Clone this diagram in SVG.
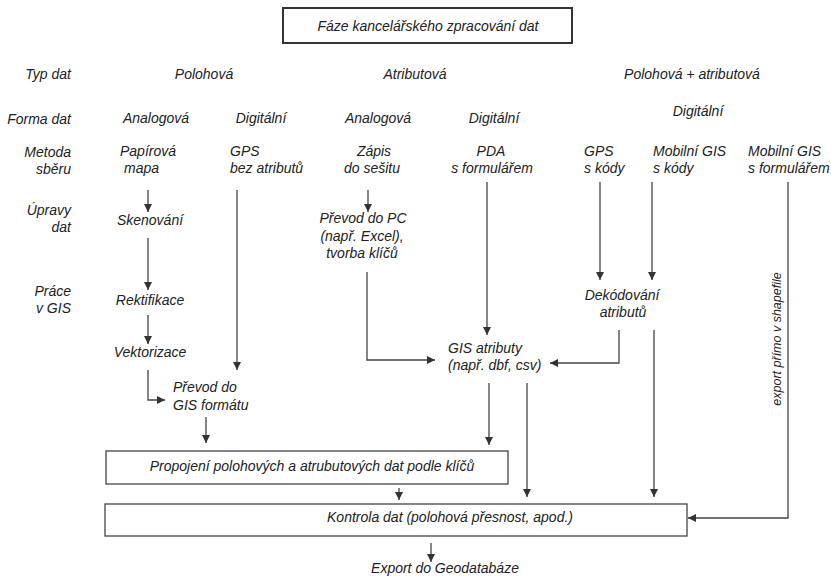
<svg xmlns="http://www.w3.org/2000/svg" width="831" height="577" viewBox="0 0 831 577">
<defs>
<style>
text{font-family:"Liberation Sans",Arial,sans-serif;font-style:italic;font-size:14px;fill:#222}
.r{text-anchor:end}
.m{text-anchor:middle}
.small{font-size:12.5px}
.box{fill:#fff;stroke:#444;stroke-width:1.3}
.edge{fill:none;stroke:#444;stroke-width:1.3}
</style>
<marker id="ah" viewBox="0 0 10 10" refX="10" refY="5" markerWidth="9" markerHeight="8" markerUnits="userSpaceOnUse" orient="auto">
<path d="M0,0 L10,5 L0,10 z" fill="#333"/>
</marker>
</defs>
<rect width="831" height="577" fill="#fff"/>

<g id="title">
<rect x="283" y="8" width="289" height="35" fill="#fff" stroke="#333" stroke-width="2"/>
<text x="428" y="31" class="m">Fáze kancelářského zpracování dat</text>
</g>

<g id="row-labels">
<text x="71" y="79" class="r">Typ dat</text>
<text x="71" y="124" class="r">Forma dat</text>
<text x="71" y="157" class="r">Metoda</text>
<text x="71" y="174" class="r">sběru</text>
<text x="71" y="215" class="r">Úpravy</text>
<text x="71" y="232" class="r">dat</text>
<text x="71" y="296" class="r">Práce</text>
<text x="71" y="313" class="r">v GIS</text>
</g>

<g id="type-headers">
<text x="204" y="79" class="m">Polohová</text>
<text x="415" y="79" class="m">Atributová</text>
<text x="692" y="79" class="m">Polohová + atributová</text>
</g>

<g id="form-headers">
<text x="156" y="123" class="m">Analogová</text>
<text x="261" y="123" class="m">Digitální</text>
<text x="378" y="123" class="m">Analogová</text>
<text x="494" y="123" class="m">Digitální</text>
<text x="698" y="116" class="m">Digitální</text>
</g>

<g id="papirova-mapa">
<text x="120" y="156">Papírová</text>
<text x="124" y="173">mapa</text>
</g>
<g id="gps-bez-atributu">
<text x="230" y="156">GPS</text>
<text x="230" y="173">bez atributů</text>
</g>
<g id="zapis-do-sesitu">
<text x="374" y="156" class="m">Zápis</text>
<text x="372" y="173" class="m">do sešitu</text>
</g>
<g id="pda">
<text x="491" y="156" class="m">PDA</text>
<text x="492" y="173" class="m">s formulářem</text>
</g>
<g id="gps-s-kody">
<text x="584" y="156">GPS</text>
<text x="584" y="173">s kódy</text>
</g>
<g id="mobilni-gis-kody">
<text x="653" y="156">Mobilní GIS</text>
<text x="653" y="173">s kódy</text>
</g>
<g id="mobilni-gis-formular">
<text x="748" y="156">Mobilní GIS</text>
<text x="748" y="173">s formulářem</text>
</g>

<g id="skenovani"><text x="150" y="225" class="m">Skenování</text></g>
<g id="rektifikace"><text x="150" y="305" class="m">Rektifikace</text></g>
<g id="vektorizace"><text x="150" y="357" class="m">Vektorizace</text></g>
<g id="prevod-gis">
<text x="173" y="392">Převod do</text>
<text x="173" y="410">GIS formátu</text>
</g>
<g id="prevod-pc">
<text x="363" y="223" class="m">Převod do PC</text>
<text x="362" y="241" class="m">(např. Excel),</text>
<text x="362" y="258" class="m">tvorba klíčů</text>
</g>
<g id="gis-atributy">
<text x="448" y="353">GIS atributy</text>
<text x="448" y="370">(např. dbf, csv)</text>
</g>
<g id="dekodovani">
<text x="622" y="300" class="m">Dekódování</text>
<text x="623" y="317" class="m">atributů</text>
</g>
<g id="propojeni">
<rect class="box" x="106" y="451" width="402" height="33"/>
<text x="312" y="471" class="m">Propojení polohových a atrubutových dat podle klíčů</text>
</g>
<g id="kontrola">
<rect class="box" x="105" y="504" width="582" height="32"/>
<text x="450" y="522" class="m">Kontrola dat (polohová přesnost, apod.)</text>
</g>
<g id="export">
<text x="445" y="573" class="m">Export do Geodatabáze</text>
</g>

<g id="connectors">
<path class="edge" d="M148,190 V212" marker-end="url(#ah)"/>
<path class="edge" d="M148,238 V290" marker-end="url(#ah)"/>
<path class="edge" d="M148,315 V344" marker-end="url(#ah)"/>
<path class="edge" d="M148,370 V400 H165" marker-end="url(#ah)"/>
<path class="edge" d="M206,417 V443" marker-end="url(#ah)"/>
<path class="edge" d="M237,190 V370" marker-end="url(#ah)"/>
<path class="edge" d="M368,190 V212" marker-end="url(#ah)"/>
<path class="edge" d="M367,272 V360 H435" marker-end="url(#ah)"/>
<path class="edge" d="M487,182 V335" marker-end="url(#ah)"/>
<path class="edge" d="M600,182 V280" marker-end="url(#ah)"/>
<path class="edge" d="M652,182 V280" marker-end="url(#ah)"/>
<path class="edge" d="M619,330 V363 H550" marker-end="url(#ah)"/>
<path class="edge" d="M654,330 V497" marker-end="url(#ah)"/>
<path class="edge" d="M788,182 V518 H688" marker-end="url(#ah)"/>
<path class="edge" d="M489,383 V445" marker-end="url(#ah)"/>
<path class="edge" d="M527,383 V497" marker-end="url(#ah)"/>
<path class="edge" d="M399,488 V500" marker-end="url(#ah)"/>
<path class="edge" d="M431,543 V562" marker-end="url(#ah)"/>
<text class="small m" transform="translate(781,339) rotate(-90)">export přímo v shapefile</text>
</g>
</svg>
